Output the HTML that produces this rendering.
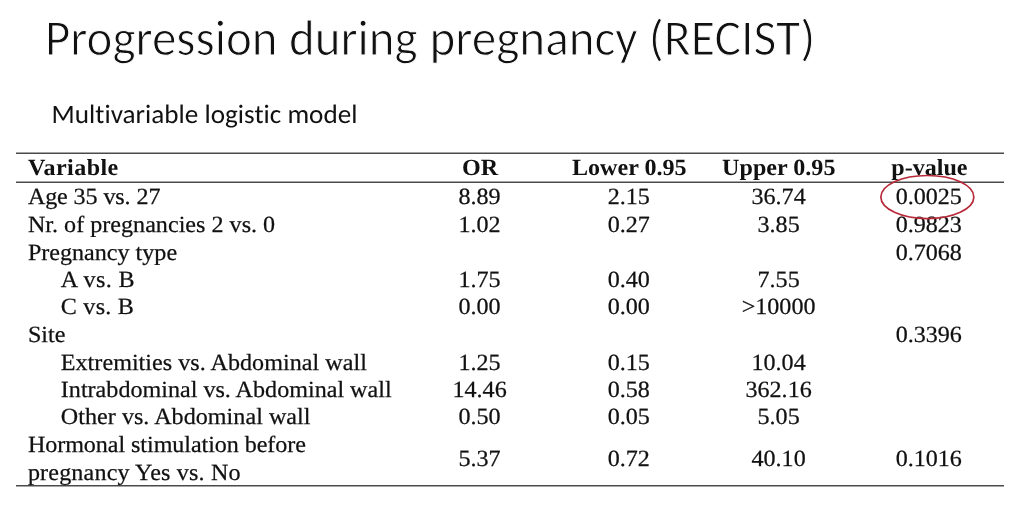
<!DOCTYPE html>
<html><head><meta charset="utf-8">
<style>
html,body{margin:0;padding:0;background:#fff;}
body{width:1024px;height:514px;overflow:hidden;}
svg{display:block;text-rendering:geometricPrecision;font-variant-ligatures:none;font-feature-settings:"liga" 0,"clig" 0;}
.ti{font-family:Carlito,"Liberation Sans",sans-serif;font-size:50.6px;fill:#111;stroke:#fff;stroke-width:1.0px;}
.su{font-family:Carlito,"Liberation Sans",sans-serif;font-size:26.6px;fill:#111;}
.tb{font-family:"Liberation Serif","Times New Roman",serif;font-size:23.2px;fill:#111;stroke:#111;stroke-width:0.25px;}
.hd{font-weight:bold;stroke-width:0;}
.m{text-anchor:middle;}
</style></head><body>
<svg width="1024" height="514" viewBox="0 0 1024 514">
<text class="ti" x="45.03" y="54.6" textLength="232.45" lengthAdjust="spacingAndGlyphs">Progression</text>
<text class="ti" x="288.94" y="54.6" textLength="128.70" lengthAdjust="spacingAndGlyphs">during</text>
<text class="ti" x="429.41" y="54.6" textLength="208.19" lengthAdjust="spacingAndGlyphs">pregnancy</text>
<text class="ti" x="648.67" y="54.6" textLength="166.61" lengthAdjust="spacingAndGlyphs">(RECIST)</text>
<text class="su" x="51.6" y="122.6" textLength="305.87" lengthAdjust="spacingAndGlyphs">Multivariable logistic model</text>
<g stroke="#4a4a4a" stroke-width="1.5">
<line x1="16" y1="153.15" x2="1004" y2="153.15"/>
<line x1="16" y1="182.15" x2="1004" y2="182.15"/>
<line x1="16" y1="485.75" x2="1004" y2="485.75"/>
</g>
<g class="tb hd" transform="scale(1.039,1)">
<text x="26.85" y="175.0" letter-spacing="0.4">Variable</text>
<text class="m" x="462.08" y="175.0">OR</text>
<text class="m" x="605.68" y="175.0">Lower 0.95</text>
<text class="m" x="749.57" y="175.0">Upper 0.95</text>
<text class="m" x="894.51" y="175.0">p-value</text>
</g>
<g class="tb" transform="scale(1.039,1)">
<text x="26.85" y="204.0" letter-spacing="-0.104">Age 35 vs. 27</text>
<text class="m" x="461.6" y="204.0">8.89</text>
<text class="m" x="605.2" y="204.0">2.15</text>
<text class="m" x="749.37" y="204.0">36.74</text>
<text class="m" x="893.94" y="204.0">0.0025</text>
<text x="26.85" y="232.0" letter-spacing="0.015">Nr. of pregnancies 2 vs. 0</text>
<text class="m" x="461.6" y="232.0">1.02</text>
<text class="m" x="605.2" y="232.0">0.27</text>
<text class="m" x="749.37" y="232.0">3.85</text>
<text class="m" x="893.94" y="232.0">0.9823</text>
<text x="26.85" y="259.6">Pregnancy type</text>
<text class="m" x="893.94" y="259.6">0.7068</text>
<text x="58.52" y="287.0" letter-spacing="0.353">A vs. B</text>
<text class="m" x="461.6" y="287.0">1.75</text>
<text class="m" x="605.2" y="287.0">0.40</text>
<text class="m" x="749.37" y="287.0">7.55</text>
<text x="58.52" y="314.4" letter-spacing="0.225">C vs. B</text>
<text class="m" x="461.6" y="314.4">0.00</text>
<text class="m" x="605.2" y="314.4">0.00</text>
<text class="m" x="749.37" y="314.4">&gt;10000</text>
<text x="26.85" y="341.7">Site</text>
<text class="m" x="893.94" y="341.7">0.3396</text>
<text x="58.52" y="369.5" letter-spacing="0.030">Extremities vs. Abdominal wall</text>
<text class="m" x="461.6" y="369.5">1.25</text>
<text class="m" x="605.2" y="369.5">0.15</text>
<text class="m" x="749.37" y="369.5">10.04</text>
<text x="58.52" y="397.0" letter-spacing="0.009">Intrabdominal vs. Abdominal wall</text>
<text class="m" x="461.6" y="397.0">14.46</text>
<text class="m" x="605.2" y="397.0">0.58</text>
<text class="m" x="749.37" y="397.0">362.16</text>
<text x="58.52" y="424.4" letter-spacing="0.033">Other vs. Abdominal wall</text>
<text class="m" x="461.6" y="424.4">0.50</text>
<text class="m" x="605.2" y="424.4">0.05</text>
<text class="m" x="749.37" y="424.4">5.05</text>
<text x="26.85" y="452" letter-spacing="-0.059">Hormonal stimulation before</text>
<text x="26.85" y="479.7" letter-spacing="0.162">pregnancy Yes vs. No</text>
<text class="m" x="461.6" y="466.2">5.37</text>
<text class="m" x="605.2" y="466.2">0.72</text>
<text class="m" x="749.37" y="466.2">40.10</text>
<text class="m" x="893.94" y="466.2">0.1016</text>
</g>
<ellipse cx="927.35" cy="197.05" rx="46.5" ry="21.55" fill="none" stroke="#b82a3a" stroke-width="1.7"/>
</svg>
</body></html>
